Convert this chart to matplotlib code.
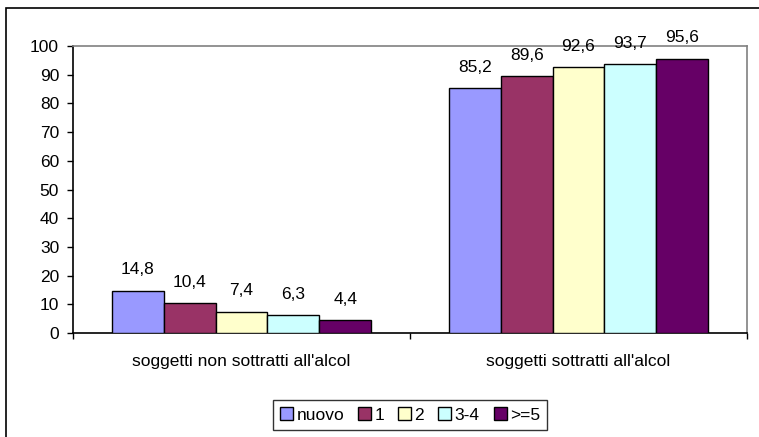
import numpy as np
import matplotlib.pyplot as plt
from matplotlib.patches import Rectangle

plt.rcParams['font.family'] = ['Liberation Sans', 'DejaVu Sans']

categories = ["soggetti non sottratti all'alcol", "soggetti sottratti all'alcol"]
series = ['nuovo', '1', '2', '3-4', '>=5']
values = [
    [14.8, 85.2],
    [10.4, 89.6],
    [7.4, 92.6],
    [6.3, 93.7],
    [4.4, 95.6],
]
colors = ['#9999FF', '#993366', '#FFFFCC', '#CCFFFF', '#660066']

W, H = 759, 437
FS = 12.5
fig = plt.figure(figsize=(W / 100, H / 100), dpi=100)

# chart border (runs off right and bottom edge, like the source)
fig.patches.append(Rectangle((6 / W, -0.2), 1.2, 1.2 - 8 / H,
                             transform=fig.transFigure, fill=False,
                             edgecolor='black', lw=1.2, clip_on=False))

ax = fig.add_axes([73 / W, 1 - 333 / H, (747 - 73) / W, (333 - 46) / H])

w = 1 / 6.5
x = np.arange(len(categories)) + 0.5
for j, (name, vals) in enumerate(zip(series, values)):
    pos = x + (j - 2) * w
    ax.bar(pos, vals, width=w, color=colors[j], edgecolor='black', lw=1.0,
           label=name, zorder=3)
    for p, v in zip(pos, vals):
        ax.annotate(f"{v:.1f}".replace('.', ','), (p, v), xytext=(0, 15),
                    textcoords='offset points', ha='center', va='center',
                    fontsize=FS)

ax.set_xlim(0, len(categories))
ax.set_ylim(0, 100)
ax.set_yticks(np.arange(0, 101, 10))
ax.tick_params(axis='y', direction='out', length=4, width=1, pad=6, labelsize=FS)
ax.set_xticks(np.arange(len(categories) + 1))
ax.set_xticklabels([])
ax.tick_params(axis='x', which='major', direction='out', length=4, width=1)
ax.set_xticks(x, minor=True)
ax.set_xticklabels(categories, minor=True)
ax.tick_params(axis='x', which='minor', length=0, pad=15, labelsize=FS)

for s in ['left', 'bottom']:
    ax.spines[s].set_color('black')
    ax.spines[s].set_linewidth(1.2)
for s in ['top', 'right']:
    ax.spines[s].set_color('#808080')
    ax.spines[s].set_linewidth(1.2)

leg = fig.legend(loc='center', bbox_to_anchor=(410 / W, 1 - 415 / H), ncol=5,
                 fontsize=FS, frameon=True, fancybox=False, edgecolor='black',
                 handlelength=0.75, handleheight=0.75, handletextpad=0.2,
                 columnspacing=0.8, borderpad=0.4)
leg.get_frame().set_linewidth(1.0)

fig.savefig('out.png', dpi=100)
